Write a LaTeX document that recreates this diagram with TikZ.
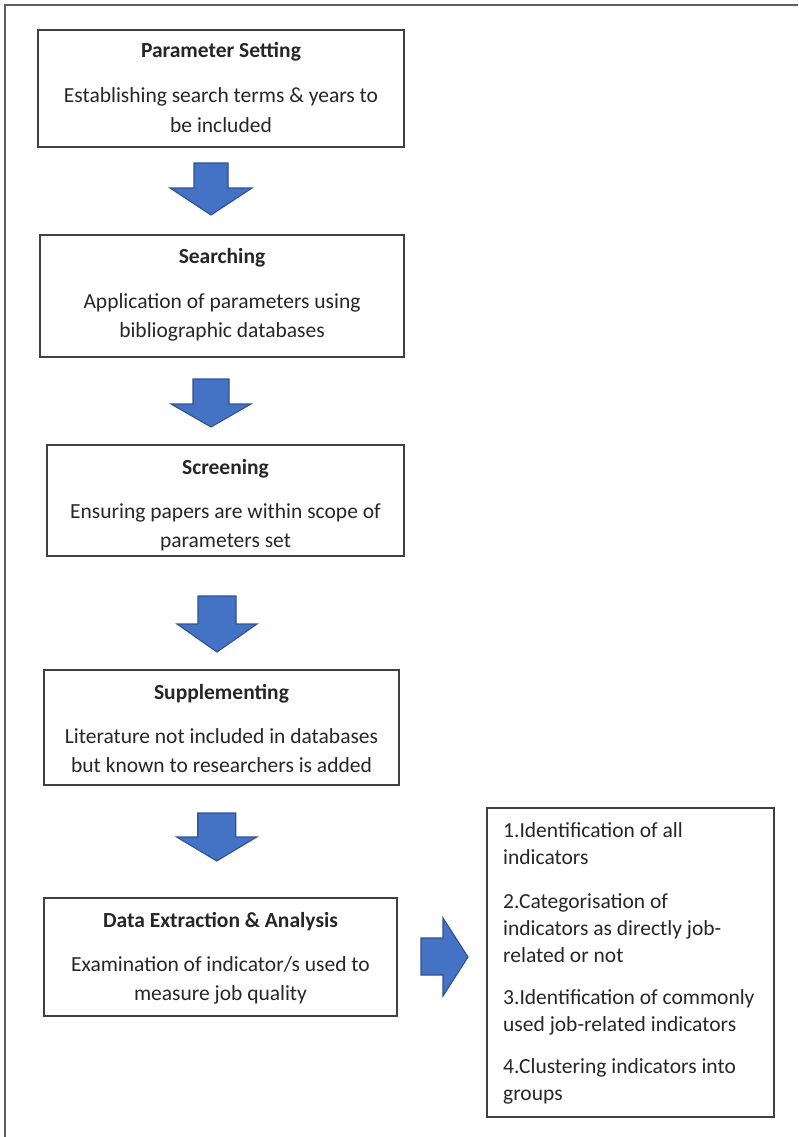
\documentclass[tikz,border=0pt]{standalone}
\usepackage{fontspec}
\setmainfont{Carlito}
\definecolor{framegray}{HTML}{5F5F5F}
\definecolor{boxgray}{HTML}{404040}
\definecolor{arrowfill}{HTML}{4472C4}
\definecolor{arrowline}{HTML}{2F528F}
\definecolor{txt}{HTML}{262626}
\tikzset{
  box/.style={draw=boxgray, line width=1.1pt, fill=white, inner sep=0pt, outer sep=0pt, anchor=north west},
  blockarrow/.style={fill=arrowfill, draw=arrowline, line width=1.1pt, line join=miter},
  titletext/.style={font=\fontsize{21.5}{25}\selectfont\bfseries, text=txt, inner sep=0pt, anchor=base},
  bodytext/.style={font=\fontsize{21.5}{25}\selectfont, text=txt, inner sep=0pt, anchor=base},
  listtext/.style={bodytext, anchor=base west},
}
\begin{document}
\begin{tikzpicture}[x=1pt,y=-1pt]
\useasboundingbox (0,0) rectangle (798,1137);
% outer frame
\draw[framegray, line width=2pt] (5,1137) -- (5,5) -- (798,5);

% boxes
\node[box, minimum width=366pt, minimum height=117pt] (b1) at (38,30) {};
\node[box, minimum width=364pt, minimum height=122pt] (b2) at (40,235) {};
\node[box, minimum width=357pt, minimum height=111pt] (b3) at (47,445) {};
\node[box, minimum width=355pt, minimum height=115pt] (b4) at (44,670) {};
\node[box, minimum width=353pt, minimum height=118pt] (b5) at (44,898) {};
\node[box, minimum width=287pt, minimum height=309pt] (b6) at (487,808) {};

% box texts
\node[titletext] (b1t) at (221,58) {Parameter Setting};
\node[bodytext] (b1a) at (221,102.5) {Establishing search terms \& years to};
\node[bodytext] (b1b) at (221,132) {be included};

\node[titletext] (b2t) at (222,263.5) {Searching};
\node[bodytext] (b2a) at (222,308) {Application of parameters using};
\node[bodytext] (b2b) at (222,337) {bibliographic databases};

\node[titletext] (b3t) at (225.5,474) {Screening};
\node[bodytext] (b3a) at (225.5,518) {Ensuring papers are within scope of};
\node[bodytext] (b3b) at (225.5,547) {parameters set};

\node[titletext] (b4t) at (221.5,699) {Supplementing};
\node[bodytext] (b4a) at (221.5,743) {Literature not included in databases};
\node[bodytext] (b4b) at (221.5,772) {but known to researchers is added};

\node[titletext] (b5t) at (220.5,927) {Data Extraction \& Analysis};
\node[bodytext] (b5a) at (220.5,971) {Examination of indicator/s used to};
\node[bodytext] (b5b) at (220.5,1000) {measure job quality};

\node[listtext] (l1) at (503,837) {1.Identification of all};
\node[listtext] (l2) at (503,864) {indicators};
\node[listtext] (l3) at (503,908) {2.Categorisation of};
\node[listtext] (l4) at (503,935) {indicators as directly job-};
\node[listtext] (l5) at (503,962) {related or not};
\node[listtext] (l6) at (503,1004) {3.Identification of commonly};
\node[listtext] (l7) at (503,1031) {used job-related indicators};
\node[listtext] (l8) at (503,1073) {4.Clustering indicators into};
\node[listtext] (l9) at (503,1100) {groups};

% down block arrows: centre x, top, shaft bottom, tip, shaft half width, head half width
\foreach \c/\t/\m/\e/\s/\h in {211/163/188/215/17/41, 211/379/404/427/18/40, 217/596/624/652/19/40, 216.7/813/837/861/19/40}{
  \draw[blockarrow] (\c-\s,\t) -- (\c+\s,\t) -- (\c+\s,\m) -- (\c+\h,\m) -- (\c,\e)
    -- (\c-\h,\m) -- (\c-\s,\m) -- cycle;
}
% right block arrow
\draw[blockarrow] (421,938) -- (443,938) -- (443,918) -- (468,957) -- (443,996)
  -- (443,975) -- (421,975) -- cycle;
\end{tikzpicture}
\end{document}
